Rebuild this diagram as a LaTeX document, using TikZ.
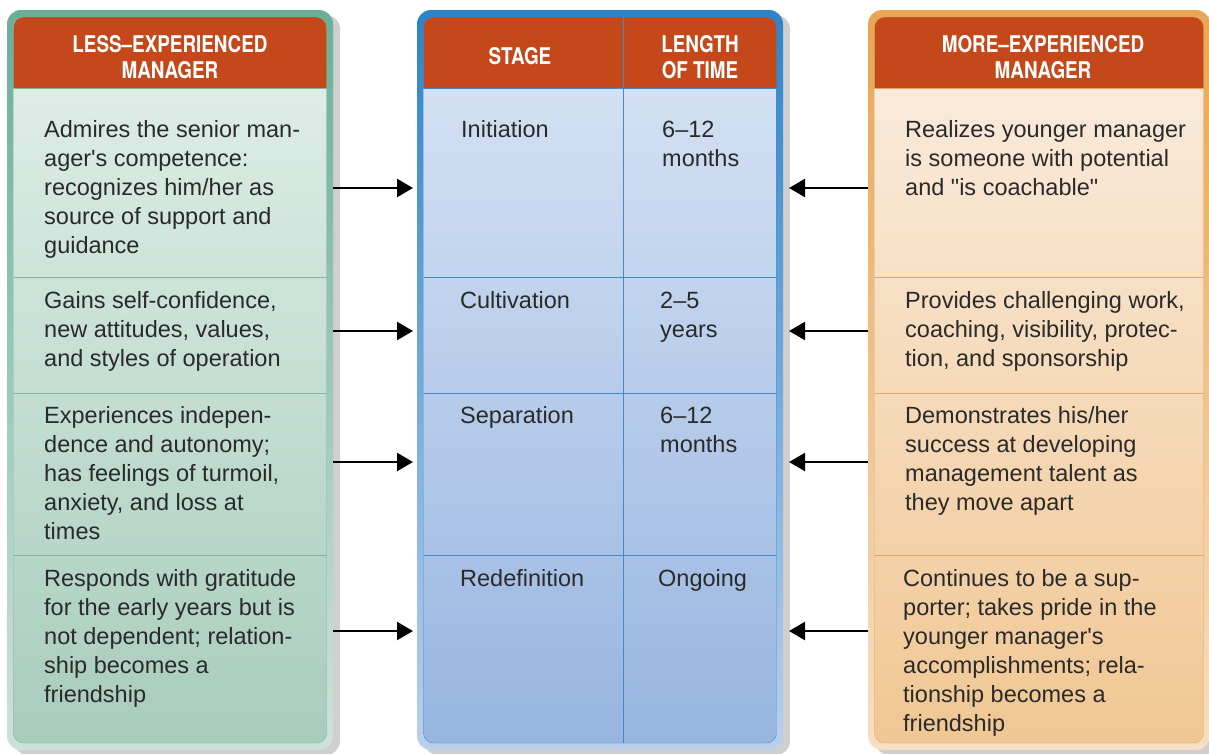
\documentclass[tikz,border=0pt]{standalone}
\usepackage{fontspec}
\setmainfont{Liberation Sans}
\newfontfamily\bodyfont{Liberation Sans}
\newfontfamily\headfont{TeX Gyre Heros}[FakeStretch=0.82]
\usetikzlibrary{arrows.meta}

\definecolor{hdr}{HTML}{C5481A}
\definecolor{ink}{HTML}{2A2A2A}
\definecolor{shadowgrey}{HTML}{CFCFCF}
\definecolor{lfrT}{HTML}{6BAE96}\definecolor{lfrB}{HTML}{CDE3D9}
\definecolor{lbdT}{HTML}{DCEDE6}\definecolor{lbdB}{HTML}{A8CCBE}
\definecolor{lln}{HTML}{7DB59F}
\definecolor{cfrT}{HTML}{2C84C8}\definecolor{cfrB}{HTML}{BAD0EC}
\definecolor{cbdT}{HTML}{D3E0F3}\definecolor{cbdB}{HTML}{97B5E0}
\definecolor{cln}{HTML}{3E8BD0}
\definecolor{rfrT}{HTML}{E8A654}\definecolor{rfrB}{HTML}{F6DFC4}
\definecolor{rbdT}{HTML}{FAEADA}\definecolor{rbdB}{HTML}{F0C793}
\definecolor{rln}{HTML}{EBA456}

\begin{document}
\begin{tikzpicture}[x=1pt,y=-1pt,
  head/.style={text=white,font=\headfont\bfseries\fontsize{23}{26}\selectfont,align=center,inner sep=0},
  body/.style={text=ink,font=\bodyfont\fontsize{23.5}{29}\selectfont,align=left,anchor=north west,inner sep=0},
  arr/.style={-{Triangle[length=16pt,width=18pt]},line width=2.3pt,black}]
  \useasboundingbox (0,0) rectangle (1209,753);
  \begin{scope}
    \clip (0,0) rectangle (1209,753);
    % three framed panels
    \foreach \p/\xa/\xb in {l/7/333,c/417/783,r/868/1210}{
      \fill[shadowgrey,rounded corners=14] (\xa+7,15) rectangle (\xb+7,755);
      \shade[top color=\p frT,bottom color=\p frB,rounded corners=14] (\xa,10) rectangle (\xb,750);
      \begin{scope}
        \clip[rounded corners=10] (\xa+6.5,17) rectangle (\xb-6.5,743);
        \shade[top color=\p bdT,bottom color=\p bdB] (\xa,88) rectangle (\xb,743);
        \fill[hdr] (\xa,17) rectangle (\xb,88);
        \foreach \y in {88,277,393,555} \draw[draw=\p ln] (\xa,\y) -- (\xb,\y);
      \end{scope}
      \draw[draw=\p ln,rounded corners=10] (\xa+6.5,17) rectangle (\xb-6.5,743);
    }
    \draw[draw=cln] (623,17) -- (623,743);
  \end{scope}

  \node[head] (lh) at (170,57) {LESS–EXPERIENCED\\MANAGER};
  \node[head] (sh) at (520,56) {STAGE};
  \node[head] (th) at (700,57) {LENGTH\\OF TIME};
  \node[head] (rh) at (1043,57) {MORE–EXPERIENCED\\MANAGER};

  \node[body] (l1) at (44,117) {\strut Admires the senior man-\\ager's competence:\\recognizes him/her as\\source of support and\\guidance};
  \node[body] (l2) at (44,288) {\strut Gains self-confidence,\\new attitudes, values,\\and styles of operation};
  \node[body] (l3) at (44,403) {\strut Experiences indepen-\\dence and autonomy;\\has feelings of turmoil,\\anxiety, and loss at\\times};
  \node[body] (l4) at (44,566) {\strut Responds with gratitude\\for the early years but is\\not dependent; relation-\\ship becomes a\\friendship};

  \node[body] (s1) at (461,117) {\strut Initiation};
  \node[body] (t1) at (662,117) {\strut 6–12\\months};
  \node[body] (s2) at (460,288) {\strut Cultivation};
  \node[body] (t2) at (660,288) {\strut 2–5\\years};
  \node[body] (s3) at (460,403) {\strut Separation};
  \node[body] (t3) at (660,403) {\strut 6–12\\months};
  \node[body] (s4) at (460,566) {\strut Redefinition};
  \node[body] (t4) at (658,566) {\strut Ongoing};

  \node[body] (m1) at (905,117) {\strut Realizes younger manager\\is someone with potential\\and "is coachable"};
  \node[body] (m2) at (905,288) {\strut Provides challenging work,\\coaching, visibility, protec-\\tion, and sponsorship};
  \node[body] (m3) at (905,403) {\strut Demonstrates his/her\\success at developing\\management talent as\\they move apart};
  \node[body] (m4) at (903,566) {\strut Continues to be a sup-\\porter; takes pride in the\\younger manager's\\accomplishments; rela-\\tionship becomes a\\friendship};

  % arrows into the stage table
  \foreach \y [count=\i] in {188,331,462,631}{
    \coordinate (ls\i) at (333,\y);
    \coordinate (le\i) at (413,\y);
    \coordinate (rs\i) at (868,\y);
    \coordinate (re\i) at (789,\y);
    \draw[arr] (ls\i) -- (le\i);
    \draw[arr] (rs\i) -- (re\i);
  }
\end{tikzpicture}
\end{document}
